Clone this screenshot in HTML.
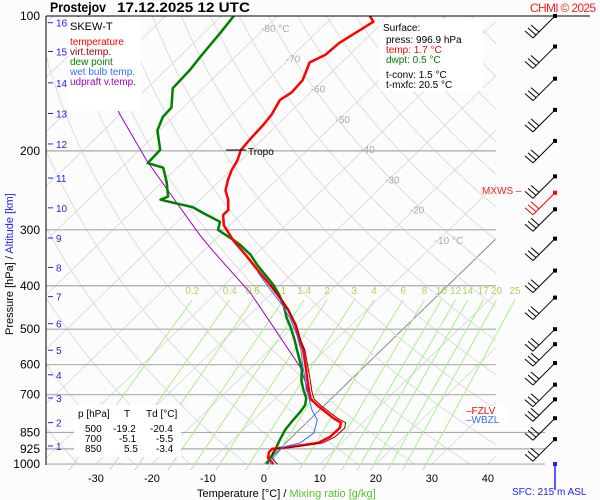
<!DOCTYPE html>
<html><head><meta charset="utf-8"><style>
body{margin:0;background:#fff;}
svg{display:block;font-family:"Liberation Sans",sans-serif;}
</style></head><body>
<svg id="chart" width="600" height="500" viewBox="0 0 600 500">
<rect x="0" y="0" width="600" height="500" fill="#fcfcfc"/>
<defs><clipPath id="plotclip"><rect x="46" y="16" width="450" height="449"/></clipPath></defs>
<g id="grid" clip-path="url(#plotclip)"></g>
<g id="hlines"></g>
<g id="mixing"></g>
<g id="series" clip-path="url(#plotclip)"></g>
<g id="labels"></g>
<g id="barbs"></g>

<text x="50" y="12" font-size="14" font-weight="bold" fill="#000" textLength="56" lengthAdjust="spacingAndGlyphs">Prostejov</text>
<text x="117" y="12" font-size="14" font-weight="bold" fill="#000" textLength="133" lengthAdjust="spacingAndGlyphs">17.12.2025 12 UTC</text>
<text x="530" y="12" font-size="12" fill="#ff2020" textLength="66">CHMI © 2025</text>
<line x1="46" y1="16" x2="590" y2="16" stroke="#000" stroke-width="1"/>
<line x1="46" y1="16" x2="46" y2="465" stroke="#000" stroke-width="1"/>

<g font-size="10">
<rect x="68" y="17" width="73" height="94" fill="#fff"/>
<text x="70" y="30" font-size="11" fill="#000">SKEW-T</text>
<text x="70" y="45" fill="#ff0000">temperature</text>
<text x="70" y="55" fill="#a00000">virt.temp.</text>
<text x="70" y="65" fill="#008000">dew point</text>
<text x="70" y="75" fill="#3070ff">wet bulb temp.</text>
<text x="70" y="85" fill="#a000c0">udpraft v.temp.</text>
</g>
<g font-size="10">
<rect x="379" y="19" width="104" height="72" fill="#fff"/>
<text x="383" y="31" fill="#000">Surface:</text>
<text x="386" y="43" fill="#000">press: 996.9 hPa</text>
<text x="386" y="53" fill="#ff0000">temp: 1.7 °C</text>
<text x="386" y="63" fill="#008000">dwpt: 0.5 °C</text>
<text x="386" y="78" fill="#000">t-conv: 1.5 °C</text>
<text x="386" y="88" fill="#000">t-mxfc: 20.5 °C</text>
</g>
<g font-size="10" fill="#000">
<rect x="74" y="405" width="107" height="52" fill="#fff"/>
<text x="78" y="417">p [hPa]</text><text x="124" y="417">T</text><text x="146" y="417">Td [°C]</text>
<text x="85" y="432">500</text><text x="113" y="432">-19.2</text><text x="150" y="432">-20.4</text>
<text x="85" y="442">700</text><text x="119" y="442">-5.1</text><text x="156" y="442">-5.5</text>
<text x="85" y="452">850</text><text x="124" y="452">5.5</text><text x="156" y="452">-3.4</text>
</g>
<rect x="465" y="406" width="43" height="17" fill="#fff"/>
<text x="466" y="414" font-size="10" fill="#ff0000">–FZLV</text>
<text x="466" y="423" font-size="10" fill="#3070ff">–WBZL</text>
<text x="482" y="194" font-size="10" fill="#ff2020">MXWS –</text>
<text x="512" y="495" font-size="10" fill="#2020ff">SFC: 215 m ASL</text>
<text x="248" y="155" font-size="10" fill="#000">Tropo</text>
<line x1="226" y1="150" x2="246" y2="150" stroke="#000" stroke-width="1"/>
<text x="197" y="497" font-size="11"><tspan fill="#000">Temperature [°C]  /  </tspan><tspan fill="#5cc030">Mixing ratio [g/kg]</tspan></text>
<text transform="translate(13,335) rotate(-90)" font-size="11"><tspan fill="#000">Pressure [hPa]  /  </tspan><tspan fill="#2020ff">Altitude [km]</tspan></text>
</svg>
<script>
const pressureTicks=[100,200,300,400,500,600,700,850,925,1000];
const tempTicks=[-30,-20,-10,0,10,20,30,40];
const isoLabels=[-80,-70,-60,-50,-40,-30,-20,-10];
const mixRatios=[0.2,0.4,0.6,1,1.4,2,3,4,6,8,10,12,14,17,20,25];
const altKm=[16,15,14,13,12,11,10,9,8,7,6,5,4,3,2,1];
const altP=[103.5,120,141,165,193,230,268,313,364,423,486,557,632,712,808,911];
const tempP=[1000,969,940,925,916,897,870,831,809,789,742,716,690,643,610,556,529,489,453,430,398,369,341,318,293,278,271,257,245,232,221,210,199,186,175,166,154,148,139,127,122,115,105,103,100];
const tempT=[1.7,-0.4,-1.3,-1.3,1.5,5.8,6.8,6.9,6.2,3.9,-1.0,-3.6,-5.2,-8.1,-10.2,-14.0,-16.4,-20.0,-24.0,-27.1,-31.9,-36.8,-41.8,-46.4,-51.1,-53.1,-53.1,-55.0,-57.2,-58.7,-59.8,-60.6,-61.9,-62.3,-62.5,-62.9,-64.1,-63.4,-63.7,-65.7,-64.3,-64.0,-62.2,-61.8,-63.5];
const virtP=[1000,969,940,925,916,897,870,831,809,789,742,716,690,643,610,556,529,489,453,430,398];
const virtT=[2.4,0.3,-0.6,-0.6,2.3,6.6,7.7,7.8,7.0,4.6,-0.4,-3.0,-4.7,-7.6,-9.8,-13.7,-16.2,-19.8,-23.9,-27.0,-31.8];
const dewP=[1000,969,930,884,839,797,765,738,712,683,649,617,592,556,529,497,472,442,419,398,378,359,341,324,316,300,288,275,267,261,257,253,235,218,213,199,180,168,160,145,132,123,109,100];
const dewT=[0.5,0.0,-0.6,-1.6,-2.5,-2.9,-3.1,-3.5,-4.6,-6.6,-8.8,-10.5,-12.3,-15.1,-17.3,-20.2,-22.8,-25.7,-28.4,-31.3,-34.6,-37.9,-40.9,-44.6,-46.7,-51.3,-52.4,-57.1,-60.0,-64.3,-67.1,-66.3,-69.2,-72.5,-76.1,-76.3,-80.4,-81.9,-82.1,-85.4,-85.7,-86.3,-87.1,-87.8];
const wetP=[1000,954,916,897,852,797,757,712,683,649,604,556,516,477,442,409,373];
const wetT=[1.0,0.3,0.3,2.6,3.2,1.4,-1.4,-4.1,-6.1,-8.1,-11.1,-14.4,-17.8,-21.7,-25.9,-30.8,-36.4];
const parcelP=[690,667,607,470,415,333,308,267,210,165,100];
const parcelT=[-5.5,-6.9,-11.4,-26.5,-33.9,-48.6,-53.6,-62.3,-76.8,-90.3,-115.6];
const windP=[100,117,138,162,190,228,248,270,314,370,425,500,540,595,665,717,790,880];
const windRed=[false,false,false,false,false,false,true,false,false,false,false,false,false,false,false,false,false,false];

const NS='http://www.w3.org/2000/svg';
function yP(p){return 16+194.6*Math.log(p/100);}
function xT(t,p){return 264+5.6*t+1.03*(464-yP(p));}
function mk(tag,attrs,parent){const e=document.createElementNS(NS,tag);for(const k in attrs)e.setAttribute(k,attrs[k]);parent.appendChild(e);return e;}
function pathFrom(ps,ts){let d='';for(let i=0;i<ps.length;i++){d+=(i?'L':'M')+xT(ts[i],ps[i]).toFixed(1)+','+yP(ps[i]).toFixed(1);}return d;}
const grid=document.getElementById('grid'),hl=document.getElementById('hlines'),mix=document.getElementById('mixing'),ser=document.getElementById('series'),lab=document.getElementById('labels'),barbs=document.getElementById('barbs');

for(let t=-150;t<=50;t+=10){
  const l=mk('line',{x1:xT(t,1000),y1:yP(1000),x2:xT(t,100),y2:yP(100),stroke:t===0?'#888':'#ddd','stroke-width':1},grid);
  
  
}
for(let th=220;th<=520;th+=10){
  let d='';for(let p=1000;p>=100;p-=10){const t=th*Math.pow(p/1000,0.286)-273.15;d+=(p===1000?'M':'L')+xT(t,p).toFixed(1)+','+yP(p).toFixed(1);}
  const a=mk('path',{d:d,fill:'none',stroke:'#ddd','stroke-width':1},grid);
  
  
}
pressureTicks.forEach(p=>{
  if(p!==100){const x2=(p>=850)?545:496;
    const l=mk('line',{x1:46,y1:yP(p),x2:x2,y2:yP(p),stroke:'#aaa','stroke-width':1.2},hl);
    
    }
  const t=mk('text',{x:40,y:yP(p)+4,'text-anchor':'end','font-size':12,fill:'#000'},lab);t.textContent=p;
  
  
});
tempTicks.forEach(v=>{
  const t=mk('text',{x:xT(v,1000),y:482,'text-anchor':'middle','font-size':11,fill:'#000'},lab);t.textContent=v;
  
  
});
isoLabels.forEach(v=>{
  const y=28+(v+80)*((240-28)/70);
  const p=100*Math.exp((y-16)/194.6);
  const t=mk('text',{x:xT(v,p)-4,y:y+4,'font-size':10,fill:'#aaa'},lab);t.textContent=(v===-80||v===-10)?v+' °C':v;
  
  
});
altKm.forEach((k,i)=>{
  const y=yP(altP[i]);
  const l=mk('line',{x1:48,y1:y,x2:53,y2:y,stroke:'#2020ff','stroke-width':1},lab);
  
  
  const t=mk('text',{x:56,y:y+4,'font-size':10,fill:'#2020ff'},lab);t.textContent=k;
  
  
});
function tdFor(w,p){const e=w*p/(622+w);const l=Math.log(e/6.112);return 243.5*l/(17.67-l);}
mixRatios.forEach(w=>{
  const x1=xT(tdFor(w,1000),1000),x2=xT(tdFor(w,430),430);
  const l=mk('line',{x1:x1,y1:yP(1000)+6,x2:x2,y2:yP(430),stroke:'#a8f090','stroke-width':1},mix);
  
  
  const t=mk('text',{x:x2,y:yP(430)-6,'text-anchor':'middle','font-size':10,fill:'#a8d850'},mix);t.textContent=w;
  
  
});
const parcel=mk('path',{d:pathFrom(parcelP,parcelT),fill:'none',stroke:'#a000c0','stroke-width':1},ser);


const dew=mk('path',{d:pathFrom(dewP,dewT),fill:'none',stroke:'#008000','stroke-width':2.5,'stroke-linejoin':'round'},ser);


const temp=mk('path',{d:pathFrom(tempP,tempT),fill:'none',stroke:'#ff0000','stroke-width':2.5,'stroke-linejoin':'round'},ser);


const virt=mk('path',{d:pathFrom(virtP,virtT),fill:'none',stroke:'#900000','stroke-width':1},ser);


const wet=mk('path',{d:pathFrom(wetP,wetT),fill:'none',stroke:'#3070ff','stroke-width':1},ser);


windP.forEach((p,i)=>{
  const y=yP(p),c=windRed[i]?'#ff0000':'#000';
  const g=mk('g',{},barbs);
  
  
  mk('rect',{x:553,y:y-2,width:4,height:4,fill:c},g);
  const ex=533,ey=y+22;
  mk('line',{x1:555,y1:y,x2:ex,y2:ey,stroke:c,'stroke-width':1},g);
  for(let k=0;k<3;k++){const bx=ex+k*3,by=ey-k*3;mk('line',{x1:bx,y1:by,x2:bx-8,y2:by-7,stroke:c,'stroke-width':1},g);}
});
const sfc=mk('line',{x1:555,y1:465,x2:555,y2:490,stroke:'#2020ff','stroke-width':1.5},barbs);


mk('rect',{x:553,y:462,width:4,height:4,fill:'#2020ff'},barbs);
</script>
</body></html>
